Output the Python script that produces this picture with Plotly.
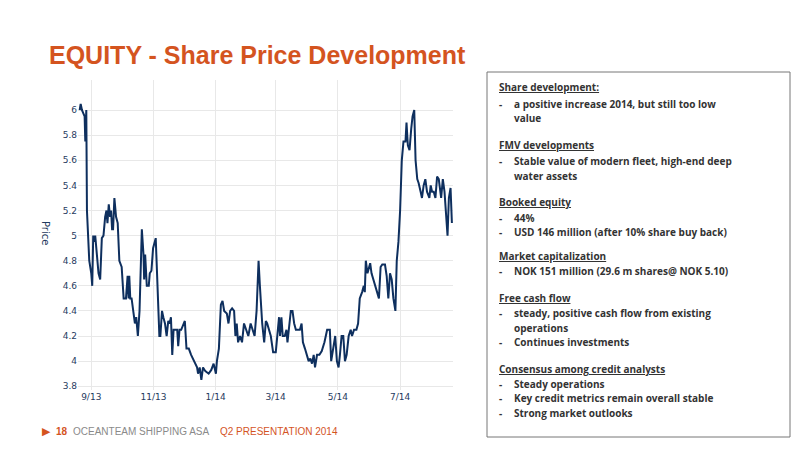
import plotly.graph_objects as go
import pandas as pd

# zoom-read positions converted to day offsets from 2013-09-01
z1_x = [55,58,62,70,72,75,77,80,84,90,93,96,100,102,106,112,117,122,127,132,136,139,143,147,150,153,156,160,165,170,175,182,188,195,200,203,205,208,212,216,222,226,231,236,243,248,250,253,258,264,267,272,277,285,290,296,299,304,308,313,318,323,327,331,335,339,344,350,353,357,362,370,373,378,385,392,400,410,413,418,423,428,435,445,453,460,467,470,476,482,487,492,500,505,510,516,522,526,530,534,540,546,552,558,565,572,577,584,590,596,600,607,613,618,622,628,633,640,648]
z1_v = [6.0,6.05,6.0,5.95,5.75,6.0,5.2,4.95,4.8,4.7,4.6,5.0,4.95,5.0,4.9,4.7,4.65,4.98,5.0,5.15,5.2,5.1,5.25,5.15,5.2,5.05,5.05,5.3,5.15,5.1,4.8,4.75,4.5,4.5,4.68,4.5,4.68,4.5,4.5,4.4,4.3,4.35,4.2,4.4,5.05,4.85,4.65,4.85,4.6,4.6,4.7,4.72,4.9,4.98,4.6,4.2,4.2,4.4,4.35,4.3,4.2,4.32,4.3,4.35,4.05,4.25,4.25,4.25,4.12,4.25,4.25,4.3,4.32,4.1,4.1,4.05,4.0,3.95,3.9,3.95,3.85,3.95,3.92,3.9,3.93,3.98,3.9,4.0,4.1,4.45,4.48,4.4,4.38,4.3,4.4,4.42,4.4,4.2,4.3,4.15,4.2,4.15,4.3,4.25,4.2,4.3,4.25,4.2,4.4,4.8,4.6,4.3,4.15,4.32,4.3,4.25,4.2,4.07,4.07]
z2_x = [55,58,62,66,72,77,80,86,90,95,100,105,110,117,122,126,132,138,143,148,153,158,162,168,175,182,190,198,206,210,215,222,227,232,236,241,246,251,256,262,268,272,278,285,290,295,302,307,310,313,318,322,326,330,335,340,347,352,357,362,370,375,380,385,390,395,401,405,410,415,420,425,431,434,438,443,448,452,457,461,466,470,476,480,485,490,495,502,506,510,515,520,525,530,537,542,547,553,556,560,565,569]
z2_v = [4.35,4.2,4.35,4.2,4.2,4.25,4.15,4.3,4.4,4.4,4.3,4.25,4.25,4.25,4.3,4.15,4.1,4.05,4.0,4.02,3.98,4.05,3.95,4.05,4.05,4.08,4.15,4.25,4.25,4.0,4.1,4.2,4.0,3.95,4.05,4.2,4.2,4.0,4.05,4.2,4.25,4.2,4.25,4.25,4.3,4.5,4.55,4.6,4.55,4.8,4.7,4.75,4.78,4.7,4.65,4.6,4.55,4.5,4.75,4.77,4.77,4.68,4.5,4.7,4.65,4.5,4.4,4.8,4.95,5.2,5.6,5.75,5.75,5.9,5.72,5.68,5.85,5.95,6.0,5.6,5.45,5.42,5.35,5.3,5.4,5.45,5.35,5.3,5.4,5.35,5.35,5.3,5.47,5.45,5.3,5.45,5.35,5.1,5.0,5.3,5.38,5.1]

days = [(x - 90) * 0.3245 for x in z1_x] + [181 + (x - 45) * 0.33 for x in z2_x]
prices = z1_v + z2_v
dates = pd.Timestamp("2013-09-01") + pd.to_timedelta(days, unit="D")

tick_vals = ["2013-09-01", "2013-11-01", "2014-01-01", "2014-03-01", "2014-05-01", "2014-07-01"]
tick_text = ["9/13", "11/13", "1/14", "3/14", "5/14", "7/14"]
y_ticks = [3.8, 4, 4.2, 4.4, 4.6, 4.8, 5, 5.2, 5.4, 5.6, 5.8, 6]

fig = go.Figure(go.Scatter(x=dates, y=prices, mode="lines",
                           line=dict(color="#0E2F5E", width=2), hoverinfo="skip"))

W, H = 800, 450
OFF = 8
def px(x): return (x - OFF) / W
def py(y): return 1 - (y - OFF) / H

tf = dict(family="DejaVu Sans", size=9, color="#1F3A60")
fig.update_layout(
    width=W, height=H, margin=dict(l=0, r=0, t=0, b=0),
    paper_bgcolor="white", plot_bgcolor="white", showlegend=False,
    xaxis=dict(domain=[px(78), px(453)], range=["2013-08-19", "2014-08-22"], automargin=False,
               tickvals=tick_vals, ticktext=tick_text, showgrid=True, gridcolor="#E8E8E8",
               zeroline=False, tickfont=tf, ticks=""),
    yaxis=dict(domain=[py(390), py(80)], range=[3.77, 6.24], tickvals=y_ticks, automargin=False,
               ticktext=[("%g" % v) for v in y_ticks], showgrid=True, gridcolor="#E8E8E8",
               zeroline=False, tickfont=tf, ticks=""),
)

ann = []
ann.append(dict(x=px(46), y=py(233), text="Price", textangle=90, xanchor="center", yanchor="middle",
                font=dict(family="DejaVu Sans", size=10, color="#1F3A60")))
ann.append(dict(x=px(47), y=py(55), text="<b>EQUITY - Share Price Development</b>",
                font=dict(family="Liberation Sans", size=25, color="#D4541F"),
                xanchor="left", yanchor="middle"))
fig.add_shape(type="rect", xref="paper", yref="paper", x0=px(487), x1=px(790), y0=py(437), y1=py(72),
              line=dict(color="#777777", width=1))

lines = [
    (87, 497, "<u>Share development:</u>"),
    (104, 497, "-"), (104, 512, "a positive increase 2014, but still too low"),
    (118, 512, "value"),
    (145, 497, "<u>FMV developments</u>"),
    (161, 497, "-"), (161, 512, "Stable value of modern fleet, high-end deep"),
    (176, 512, "water assets"),
    (202, 497, "<u>Booked equity</u>"),
    (218, 497, "-"), (218, 512, "44%"),
    (232, 497, "-"), (232, 512, "USD 146 million (after 10% share buy back)"),
    (256, 497, "<u>Market capitalization</u>"),
    (271, 497, "-"), (271, 512, "NOK 151 million (29.6 m shares@ NOK 5.10)"),
    (298, 497, "<u>Free cash flow</u>"),
    (313, 497, "-"), (313, 512, "steady, positive cash flow from existing"),
    (328, 512, "operations"),
    (342, 497, "-"), (342, 512, "Continues investments"),
    (369, 497, "<u>Consensus among credit analysts</u>"),
    (384, 497, "-"), (384, 512, "Steady operations"),
    (398, 497, "-"), (398, 512, "Key credit metrics remain overall stable"),
    (413, 497, "-"), (413, 512, "Strong market outlooks"),
]
for y, x, t in lines:
    ann.append(dict(x=px(x), y=py(y), text="<b>" + t + "</b>", xanchor="left", yanchor="middle",
                    font=dict(family="Open Sans", size=10, color="#333333")))

ann.append(dict(x=px(40), y=py(431), text="▶", xanchor="left", yanchor="middle",
                font=dict(family="DejaVu Sans", size=11, color="#D4541F")))
ann.append(dict(x=px(54), y=py(431), text="<b>18</b>", xanchor="left", yanchor="middle",
                font=dict(family="Liberation Sans", size=10, color="#D4541F")))
ann.append(dict(x=px(71), y=py(431), text="OCEANTEAM SHIPPING ASA", xanchor="left", yanchor="middle",
                font=dict(family="Liberation Sans", size=10, color="#8A8A8A")))
ann.append(dict(x=px(218), y=py(431), text="Q2 PRESENTATION 2014", xanchor="left", yanchor="middle",
                font=dict(family="Liberation Sans", size=10, color="#D4541F")))
for a in ann:
    a.update(xref="paper", yref="paper", showarrow=False)
fig.update_layout(annotations=ann)

fig.write_html("out.html")
